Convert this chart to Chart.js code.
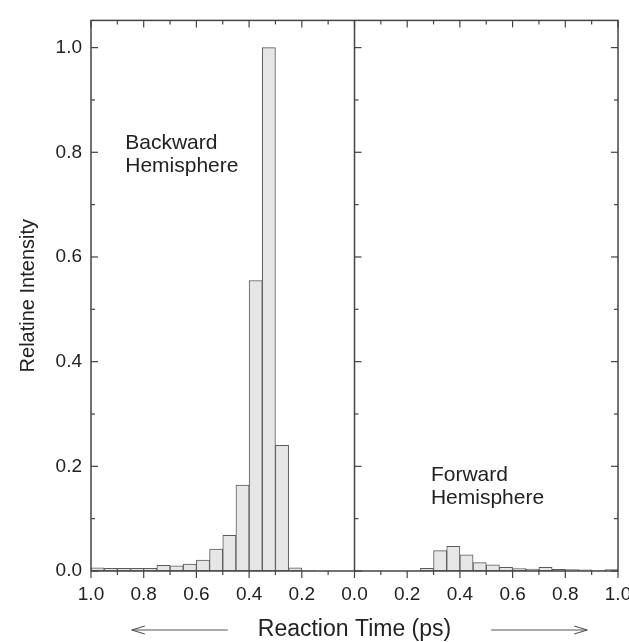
<!DOCTYPE html>
<html>
<head>
<meta charset="utf-8">
<script src="https://cdn.jsdelivr.net/npm/chart.js@4.4.0/dist/chart.umd.min.js"></script>
<style>
  html, body { margin: 0; padding: 0; background: #fff; }
  #wrap { width: 629px; height: 642px; }
</style>
</head>
<body>
<div id="wrap"><canvas id="histChart" width="629" height="642"></canvas></div>
<script>
// histogram bins, 0.05 ps wide (centres in ps)
const backwardCenters = [0.975, 0.925, 0.875, 0.825, 0.775, 0.725, 0.675, 0.625, 0.575, 0.525, 0.475, 0.425, 0.375, 0.325, 0.275, 0.225, 0.175];
const backwardValues  = [0.006, 0.005, 0.005, 0.005, 0.005, 0.011, 0.010, 0.013, 0.021, 0.042, 0.068, 0.164, 0.555, 1.000, 0.240, 0.006, 0.0015];

const forwardCenters = [0.275, 0.325, 0.375, 0.425, 0.475, 0.525, 0.575, 0.625, 0.675, 0.725, 0.775, 0.825, 0.875, 0.925, 0.975];
const forwardValues  = [0.005, 0.039, 0.047, 0.031, 0.016, 0.012, 0.007, 0.0045, 0.0035, 0.007, 0.003, 0.0025, 0.002, 0.001, 0.0025];

// tick positions (backward side is plotted as negative time)
const xTicks = [-1, -0.8, -0.6, -0.4, -0.2, 0, 0.2, 0.4, 0.6, 0.8, 1];
const yTicks = [0, 0.2, 0.4, 0.6, 0.8, 1.0];

const axisColor = '#444';
const textColor = '#222';
const fontFamily = '"Liberation Sans", Arial, Helvetica, sans-serif';


function buildPoints() {
  let pts = [];
  backwardCenters.forEach((c, i) => pts.push({ x: -c, y: backwardValues[i] }));
  forwardCenters.forEach((c, i) => pts.push({ x: c, y: forwardValues[i] }));
  return pts;
}

function midpoints(arr) {
  let out = [];
  for (let i = 0; i < arr.length - 1; i++) out.push((arr[i] + arr[i + 1]) / 2);
  return out;
}

function line(ctx, x1, y1, x2, y2) {
  ctx.beginPath();
  ctx.moveTo(x1, y1);
  ctx.lineTo(x2, y2);
  ctx.stroke();
}

const panelLabels = [
  { text: ['Backward', 'Hemisphere'], x: -0.87, y: 0.8175 },
  { text: ['Forward', 'Hemisphere'], x: 0.29, y: 0.183 }
];

const framePlugin = {
  id: 'frame',
  afterDatasetsDraw(chart) {
    const { ctx, chartArea: a, scales: { x, y } } = chart;
    const major = 7, minor = 4;
    ctx.save();
    ctx.strokeStyle = axisColor;
    ctx.lineWidth = 1.5;
    ctx.strokeRect(a.left, a.top, a.right - a.left, a.bottom - a.top);
    const mid = x.getPixelForValue(0);
    line(ctx, mid, a.top, mid, a.bottom);

    ctx.lineWidth = 1.2;
    // bottom ticks point out, top ticks point in
    xTicks.forEach(v => {
      const px = x.getPixelForValue(v);
      line(ctx, px, a.bottom, px, a.bottom + major);
      line(ctx, px, a.top, px, a.top + major);
    });
    midpoints(xTicks).forEach(v => {
      const px = x.getPixelForValue(v);
      line(ctx, px, a.bottom, px, a.bottom + minor);
      line(ctx, px, a.top, px, a.top + minor);
    });
    // y ticks on left edge, divider and right edge, all pointing inward
    const yMinor = midpoints(yTicks);
    yTicks.concat(yMinor).forEach(v => {
      const py = y.getPixelForValue(v);
      const len = yMinor.includes(v) ? minor : major;
      line(ctx, a.left, py, a.left + len, py);
      line(ctx, mid, py, mid + len, py);
      line(ctx, a.right, py, a.right - len, py);
    });
    ctx.restore();
  },
  afterDraw(chart) {
    const { ctx, chartArea: a, scales: { x, y } } = chart;
    ctx.save();
    ctx.fillStyle = textColor;
    ctx.font = '21px ' + fontFamily;
    ctx.textBaseline = 'middle';
    ctx.textAlign = 'left';
    panelLabels.forEach(lab => {
      const px = x.getPixelForValue(lab.x);
      const py = y.getPixelForValue(lab.y);
      lab.text.forEach((t, i) => ctx.fillText(t, px, py + i * 23));
    });

    // arrows beside the x title
    ctx.font = '23px ' + fontFamily;
    const title = x.options.title.text;
    const w = ctx.measureText(title).width;
    const cx = (a.left + a.right) / 2;
    const cy = 630;
    ctx.strokeStyle = '#555';
    ctx.lineWidth = 1.2;
    const l1 = cx - w / 2 - 30, l0 = l1 - 96;
    line(ctx, l0, cy, l1, cy);
    line(ctx, l0, cy, l0 + 13, cy - 4);
    line(ctx, l0, cy, l0 + 13, cy + 4);
    const r0 = cx + w / 2 + 40, r1 = r0 + 96;
    line(ctx, r0, cy, r1, cy);
    line(ctx, r1, cy, r1 - 13, cy - 4);
    line(ctx, r1, cy, r1 - 13, cy + 4);
    ctx.restore();
  }
};

function drawChart() {
  const ctx = document.getElementById('histChart').getContext('2d');
  new Chart(ctx, {
    type: 'bar',
    data: {
      datasets: [{
        data: buildPoints(),
        backgroundColor: '#e6e6e6',
        borderColor: '#5a5a5a',
        borderWidth: 1,
        borderSkipped: false,
        barPercentage: 1,
        categoryPercentage: 1
      }]
    },
    options: {
      responsive: false,
      animation: false,
      layout: { padding: { top: 18, right: 11, left: 0, bottom: 0 } },
      plugins: { legend: { display: false }, tooltip: { enabled: false } },
      scales: {
        x: {
          type: 'linear',
          min: -1,
          max: 1,
          offset: false,
          grid: { display: false, drawTicks: false },
          border: { display: false },
          afterBuildTicks: scale => { scale.ticks = xTicks.map(v => ({ value: v })); },
          afterFit: scale => {
            scale.height = 71;
            scale.paddingLeft = 0;
            scale.paddingRight = 0;
          },
          ticks: {
            autoSkip: false,
            maxRotation: 0,
            padding: 12,
            color: textColor,
            font: { size: 19, family: fontFamily },
            callback: v => Math.abs(v).toFixed(1)
          },
          title: {
            display: true,
            text: 'Reaction Time (ps)',
            color: textColor,
            font: { size: 23, family: fontFamily, lineHeight: 1.2 },
            padding: { top: 0, bottom: -1 }
          }
        },
        y: {
          min: 0,
          max: 1.052,
          grid: { display: false, drawTicks: false },
          border: { display: false },
          afterBuildTicks: scale => { scale.ticks = yTicks.map(v => ({ value: v })); },
          afterFit: scale => { scale.width = 91; },
          ticks: {
            padding: 9,
            color: textColor,
            font: { size: 19, family: fontFamily },
            callback: v => v.toFixed(1)
          },
          title: {
            display: true,
            text: 'Relatine Intensity',
            color: textColor,
            font: { size: 20, family: fontFamily, lineHeight: 1.2 },
            padding: { top: 16, bottom: 0 }
          }
        }
      }
    },
    plugins: [framePlugin]
  });
}

document.addEventListener('DOMContentLoaded', drawChart);
</script>
</body>
</html>
